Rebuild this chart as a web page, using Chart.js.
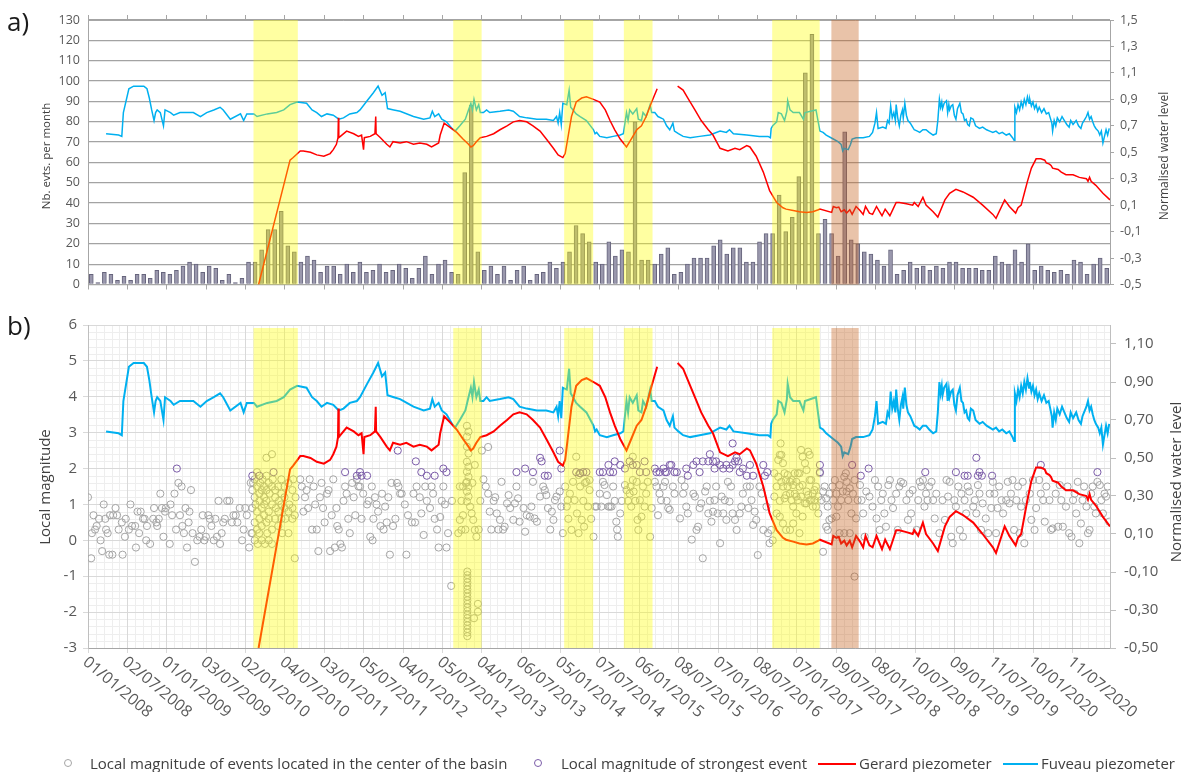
<!DOCTYPE html>
<html>
<head>
<meta charset="utf-8">
<script src="https://cdn.jsdelivr.net/npm/chart.js@4.4.1/dist/chart.umd.min.js"></script>
<style>
  body { margin: 0; background: #fff; width: 1184px; height: 772px; overflow: hidden; position: relative; font-family: 'Open Sans', sans-serif; color: #595959; }
  canvas { position: absolute; left: 0; }
  #chartA { top: 0; }
  #chartB { top: 300px; }
  .panel { position: absolute; left: 7px; font-size: 26px; color: #1a1a1a; line-height: 1; }
  .title { position: absolute; white-space: nowrap; transform: translate(-50%, -50%) rotate(-90deg); color: #404040; }
  .legend { position: absolute; top: 753px; font-size: 15px; color: #404040; white-space: nowrap; line-height: 20px; }
  .dot { position: absolute; top: 759px; width: 6px; height: 6px; border-radius: 50%; border: 1px solid; }
  .dash { position: absolute; top: 763px; height: 2px; }
</style>
</head>
<body>
<canvas id="chartA" width="1184" height="300"></canvas>
<canvas id="chartB" width="1184" height="472"></canvas>

<div class="panel" style="top:8px">a)</div>
<div class="panel" style="top:312px">b)</div>
<div class="title" style="left:45px; top:156px; font-size:11.5px">Nb. evts. per month</div>
<div class="title" style="left:1163px; top:156px; font-size:12px">Normalised water level</div>
<div class="title" style="left:44px; top:487px; font-size:15px">Local magnitude</div>
<div class="title" style="left:1175px; top:482px; font-size:15px">Normalised water level</div>

<div class="dot" style="left:64px; border-color:#a5a5a5"></div>
<div class="legend" style="left:90px">Local magnitude of events located in the center of the basin</div>
<div class="dot" style="left:534px; border-color:#7b5ca8"></div>
<div class="legend" style="left:561px">Local magnitude of strongest event</div>
<div class="dash" style="left:818px; width:38px; background:#ff0000"></div>
<div class="legend" style="left:859px">Gerard piezometer</div>
<div class="dash" style="left:1003px; width:35px; background:#00b0f0"></div>
<div class="legend" style="left:1041px">Fuveau piezometer</div>

<script>
// Date axis labels (every 183 days, as in the original spreadsheet)
const tickLabels = ['01/01/2008', '02/07/2008', '01/01/2009', '03/07/2009', '02/01/2010', '04/07/2010',
    '03/01/2011', '05/07/2011', '04/01/2012', '05/07/2012', '04/01/2013', '06/07/2013', '05/01/2014',
    '07/07/2014', '06/01/2015', '08/07/2015', '07/01/2016', '08/07/2016', '07/01/2017', '09/07/2017',
    '08/01/2018', '10/07/2018', '09/01/2019', '11/07/2019', '10/01/2020', '11/07/2020'];

// Number of events per month, Jan 2008 .. Dec 2020
const monthlyCounts = [
    5, 1, 6, 5, 2, 4, 2, 5, 5, 3, 7, 6,
    5, 7, 9, 11, 10, 6, 9, 8, 2, 5, 1, 3,
    11, 11, 17, 27, 27, 36, 19, 16, 11, 14, 12, 6,
    9, 9, 5, 10, 6, 11, 6, 7, 10, 6, 7, 10,
    8, 3, 8, 14, 5, 10, 12, 6, 5, 55, 88, 16,
    7, 9, 5, 9, 2, 7, 9, 2, 5, 6, 11, 8,
    11, 16, 29, 25, 21, 11, 10, 21, 14, 17, 16, 80,
    12, 12, 10, 15, 18, 5, 6, 10, 13, 13, 13, 19,
    22, 15, 18, 18, 11, 11, 21, 25, 25, 44, 26, 33,
    53, 104, 123, 25, 32, 25, 14, 75, 22, 20, 16, 15,
    12, 9, 17, 5, 7, 11, 8, 9, 7, 9, 8, 11,
    11, 8, 8, 8, 7, 7, 14, 11, 10, 17, 11, 20,
    7, 9, 7, 6, 7, 5, 12, 11, 5, 10, 13, 8
];

// Normalised water levels [decimal year, level]
const fuveau = [
    [2008.23, 0.64], [2008.39, 0.63], [2008.43, 0.62], [2008.45, 0.80], [2008.52, 0.98], [2008.58, 1.00],
    [2008.71, 1.00], [2008.75, 0.98], [2008.78, 0.91], [2008.81, 0.82], [2008.84, 0.74], [2008.86, 0.80],
    [2008.88, 0.82], [2008.92, 0.80], [2008.96, 0.70], [2008.98, 0.82], [2009.05, 0.80], [2009.09, 0.78],
    [2009.17, 0.80], [2009.26, 0.80], [2009.34, 0.80], [2009.43, 0.77], [2009.51, 0.80], [2009.60, 0.82],
    [2009.68, 0.84], [2009.72, 0.82], [2009.81, 0.75], [2009.94, 0.79], [2009.98, 0.74], [2010.02, 0.79],
    [2010.11, 0.79], [2010.15, 0.77], [2010.28, 0.79], [2010.40, 0.80], [2010.49, 0.82], [2010.57, 0.86],
    [2010.66, 0.88], [2010.78, 0.87], [2010.85, 0.82], [2010.91, 0.80], [2010.97, 0.77], [2011.04, 0.79],
    [2011.12, 0.78], [2011.19, 0.75], [2011.25, 0.76], [2011.33, 0.79], [2011.42, 0.80], [2011.46, 0.82],
    [2011.55, 0.89], [2011.63, 0.95], [2011.69, 1.00], [2011.74, 0.93], [2011.78, 0.95], [2011.81, 0.83],
    [2011.89, 0.82], [2011.97, 0.81], [2012.14, 0.77], [2012.27, 0.75], [2012.35, 0.76], [2012.38, 0.81],
    [2012.41, 0.77], [2012.46, 0.79], [2012.50, 0.75], [2012.56, 0.73], [2012.63, 0.68], [2012.67, 0.66],
    [2012.73, 0.70], [2012.80, 0.75], [2012.84, 0.82], [2012.87, 0.87], [2012.89, 0.82], [2012.91, 0.90],
    [2012.94, 0.82], [2012.97, 0.86], [2012.99, 0.80], [2013.03, 0.80], [2013.07, 0.82], [2013.11, 0.80],
    [2013.24, 0.81], [2013.35, 0.82], [2013.41, 0.81], [2013.49, 0.77], [2013.58, 0.76], [2013.71, 0.75],
    [2013.83, 0.75], [2013.92, 0.74], [2013.96, 0.77], [2013.98, 0.72], [2014.00, 0.80], [2014.02, 0.71],
    [2014.04, 0.87], [2014.09, 0.86], [2014.12, 0.97], [2014.14, 0.84], [2014.17, 0.82], [2014.21, 0.79],
    [2014.26, 0.77], [2014.34, 0.74], [2014.43, 0.67], [2014.45, 0.64], [2014.47, 0.65], [2014.51, 0.62],
    [2014.60, 0.61], [2014.68, 0.62], [2014.77, 0.63], [2014.81, 0.64], [2014.85, 0.80], [2014.87, 0.74],
    [2014.89, 0.82], [2014.93, 0.79], [2014.98, 0.83], [2015.00, 0.75], [2015.04, 0.74], [2015.06, 0.80],
    [2015.10, 0.77], [2015.15, 0.86], [2015.17, 0.80], [2015.21, 0.80], [2015.25, 0.77], [2015.32, 0.75],
    [2015.36, 0.70], [2015.40, 0.67], [2015.44, 0.72], [2015.46, 0.66], [2015.51, 0.64], [2015.57, 0.62],
    [2015.66, 0.61], [2015.78, 0.62], [2015.91, 0.63], [2016.04, 0.66], [2016.12, 0.65], [2016.16, 0.67],
    [2016.21, 0.64], [2016.38, 0.63], [2016.54, 0.62], [2016.65, 0.62], [2016.68, 0.61], [2016.69, 0.68],
    [2016.71, 0.70], [2016.76, 0.73], [2016.78, 0.80], [2016.82, 0.79], [2016.86, 0.74], [2016.89, 0.81],
    [2016.90, 0.89], [2016.93, 0.82], [2016.97, 0.80], [2017.01, 0.80], [2017.05, 0.80], [2017.10, 0.75],
    [2017.12, 0.80], [2017.26, 0.82], [2017.31, 0.66], [2017.35, 0.65], [2017.39, 0.63], [2017.48, 0.60],
    [2017.54, 0.58], [2017.58, 0.56], [2017.60, 0.51], [2017.62, 0.53], [2017.67, 0.52], [2017.70, 0.56],
    [2017.72, 0.60], [2017.77, 0.61], [2017.86, 0.61], [2017.94, 0.62], [2017.98, 0.65], [2018.01, 0.72],
    [2018.03, 0.80], [2018.05, 0.68], [2018.11, 0.69], [2018.15, 0.68], [2018.17, 0.74], [2018.19, 0.72],
    [2018.21, 0.85], [2018.23, 0.76], [2018.25, 0.80], [2018.27, 0.74], [2018.28, 0.86], [2018.30, 0.76],
    [2018.32, 0.70], [2018.34, 0.78], [2018.36, 0.82], [2018.37, 0.76], [2018.39, 0.87], [2018.41, 0.78],
    [2018.43, 0.74], [2018.46, 0.72], [2018.49, 0.69], [2018.51, 0.67], [2018.55, 0.66], [2018.58, 0.65],
    [2018.62, 0.67], [2018.66, 0.67], [2018.70, 0.65], [2018.75, 0.63], [2018.79, 0.64], [2018.81, 0.74],
    [2018.83, 0.90], [2018.845, 0.84], [2018.86, 0.88], [2018.87, 0.83], [2018.89, 0.87], [2018.92, 0.89],
    [2018.935, 0.80], [2018.95, 0.86], [2018.96, 0.82], [2018.98, 0.85], [2019.00, 0.86], [2019.02, 0.78],
    [2019.04, 0.75], [2019.06, 0.83], [2019.09, 0.87], [2019.11, 0.80], [2019.13, 0.79], [2019.15, 0.74],
    [2019.17, 0.75], [2019.19, 0.71], [2019.21, 0.70], [2019.23, 0.76], [2019.26, 0.75], [2019.29, 0.70],
    [2019.34, 0.68], [2019.38, 0.69], [2019.43, 0.67], [2019.47, 0.66], [2019.51, 0.65], [2019.55, 0.66],
    [2019.59, 0.64], [2019.63, 0.65], [2019.68, 0.63], [2019.72, 0.64], [2019.76, 0.61], [2019.78, 0.59],
    [2019.79, 0.84], [2019.81, 0.80], [2019.83, 0.86], [2019.85, 0.82], [2019.87, 0.88], [2019.89, 0.84],
    [2019.91, 0.90], [2019.93, 0.86], [2019.95, 0.92], [2019.97, 0.87], [2019.98, 0.90], [2020.00, 0.85],
    [2020.02, 0.88], [2020.04, 0.83], [2020.06, 0.86], [2020.08, 0.81], [2020.10, 0.84], [2020.13, 0.80],
    [2020.16, 0.83], [2020.19, 0.79], [2020.22, 0.80], [2020.24, 0.76], [2020.26, 0.72], [2020.27, 0.66],
    [2020.29, 0.74], [2020.31, 0.70], [2020.33, 0.76], [2020.36, 0.73], [2020.39, 0.77], [2020.42, 0.74],
    [2020.45, 0.71], [2020.48, 0.69], [2020.50, 0.74], [2020.53, 0.71], [2020.57, 0.74], [2020.60, 0.70],
    [2020.63, 0.68], [2020.65, 0.72], [2020.67, 0.74], [2020.70, 0.77], [2020.72, 0.80], [2020.74, 0.75],
    [2020.76, 0.77], [2020.78, 0.73], [2020.80, 0.70], [2020.82, 0.68], [2020.85, 0.66], [2020.87, 0.63],
    [2020.89, 0.66], [2020.91, 0.57], [2020.93, 0.62], [2020.95, 0.67], [2020.97, 0.63], [2020.99, 0.68]
];

const gerard = [
    [2010.17, -0.50], [2010.57, 0.44], [2010.61, 0.46], [2010.70, 0.51], [2010.74, 0.51], [2010.83, 0.50],
    [2010.91, 0.48], [2011.00, 0.47], [2011.08, 0.49], [2011.12, 0.52], [2011.16, 0.56], [2011.18, 0.61],
    [2011.185, 0.76], [2011.19, 0.61], [2011.21, 0.62], [2011.29, 0.66], [2011.38, 0.64], [2011.44, 0.62],
    [2011.48, 0.63], [2011.505, 0.52], [2011.515, 0.61], [2011.59, 0.62], [2011.65, 0.64], [2011.66, 0.77],
    [2011.665, 0.64], [2011.72, 0.61], [2011.80, 0.56], [2011.84, 0.54], [2011.88, 0.58], [2011.97, 0.57],
    [2012.05, 0.58], [2012.14, 0.56], [2012.22, 0.57], [2012.31, 0.56], [2012.37, 0.54], [2012.46, 0.57],
    [2012.48, 0.63], [2012.53, 0.72], [2012.60, 0.69], [2012.69, 0.65], [2012.77, 0.60], [2012.84, 0.56],
    [2012.87, 0.54], [2012.90, 0.55], [2012.94, 0.58], [2012.99, 0.61], [2013.07, 0.62], [2013.16, 0.64],
    [2013.24, 0.67], [2013.33, 0.70], [2013.41, 0.73], [2013.49, 0.74], [2013.58, 0.73], [2013.66, 0.70],
    [2013.75, 0.66], [2013.83, 0.60], [2013.92, 0.53], [2013.98, 0.48], [2014.04, 0.46], [2014.07, 0.49],
    [2014.11, 0.63], [2014.15, 0.77], [2014.21, 0.88], [2014.28, 0.91], [2014.34, 0.92], [2014.43, 0.90],
    [2014.51, 0.88], [2014.58, 0.82], [2014.64, 0.74], [2014.70, 0.67], [2014.77, 0.60], [2014.85, 0.54],
    [2014.91, 0.60], [2014.98, 0.67], [2015.04, 0.70], [2015.10, 0.77], [2015.17, 0.88], [2015.24, 0.98],
    [2015.37, null], [2015.50, 1.00], [2015.57, 0.97], [2015.63, 0.91], [2015.72, 0.82], [2015.80, 0.74],
    [2015.89, 0.67], [2015.95, 0.63], [2016.04, 0.53], [2016.14, 0.51], [2016.23, 0.53], [2016.29, 0.52],
    [2016.38, 0.55], [2016.42, 0.54], [2016.50, 0.47], [2016.59, 0.35], [2016.67, 0.21], [2016.76, 0.12],
    [2016.84, 0.08], [2016.88, 0.07], [2016.97, 0.06], [2017.05, 0.05], [2017.14, 0.045], [2017.22, 0.05],
    [2017.29, 0.065], [2017.31, 0.07], [2017.46, 0.045], [2017.48, 0.09], [2017.52, 0.08], [2017.55, 0.085],
    [2017.58, 0.05], [2017.62, 0.065], [2017.65, 0.04], [2017.69, 0.065], [2017.72, 0.03], [2017.77, 0.09],
    [2017.82, 0.06], [2017.86, 0.03], [2017.89, 0.09], [2017.94, 0.04], [2017.98, 0.03], [2018.03, 0.09],
    [2018.07, 0.05], [2018.10, 0.02], [2018.14, 0.07], [2018.20, 0.02], [2018.24, 0.07], [2018.28, 0.12],
    [2018.32, 0.12], [2018.41, 0.11], [2018.49, 0.10], [2018.51, 0.12], [2018.56, 0.09], [2018.62, 0.16],
    [2018.66, 0.10], [2018.75, 0.05], [2018.81, 0.01], [2018.90, 0.14], [2018.96, 0.19], [2019.04, 0.22],
    [2019.13, 0.20], [2019.26, 0.16], [2019.38, 0.10], [2019.51, 0.03], [2019.55, 0.00], [2019.66, 0.14],
    [2019.72, 0.09], [2019.80, 0.04], [2019.83, 0.08], [2019.87, 0.10], [2019.91, 0.19], [2019.95, 0.28],
    [2020.00, 0.38], [2020.06, 0.45], [2020.12, 0.45], [2020.17, 0.44], [2020.19, 0.42], [2020.23, 0.41],
    [2020.25, 0.40], [2020.27, 0.38], [2020.34, 0.37], [2020.38, 0.35], [2020.44, 0.33], [2020.53, 0.33],
    [2020.61, 0.31], [2020.70, 0.30], [2020.72, 0.28], [2020.74, 0.31], [2020.76, 0.28], [2020.82, 0.25],
    [2020.91, 0.19], [2021.00, 0.14]
];

// Local magnitudes [decimal year, ML]
const basinEvents = [
    [2008.00, 1.2], [2008.04, -0.5], [2008.05, 0.2], [2008.07, 0.7], [2008.09, 0.3], [2008.11, 0.4], [2008.14, 0.6],
    [2008.16, 0.0], [2008.18, -0.3], [2008.20, 1.0], [2008.22, 0.6], [2008.23, 0.3], [2008.25, 0.2], [2008.27, -0.4],
    [2008.28, 0.7], [2008.31, -0.4], [2008.32, 0.7], [2008.35, 0.9], [2008.37, 0.7], [2008.39, 0.3], [2008.43, 0.5],
    [2008.44, -0.4], [2008.47, 0.1], [2008.48, 0.6], [2008.52, 0.3], [2008.54, 1.0], [2008.56, 0.4], [2008.60, 0.4],
    [2008.61, -0.2], [2008.63, 0.8], [2008.65, 0.2], [2008.67, 0.8], [2008.70, 0.6], [2008.72, 0.6], [2008.74, 0.0],
    [2008.75, 0.4], [2008.79, -0.1], [2008.83, 0.6], [2008.84, 0.9], [2008.87, 0.5], [2008.88, 0.4], [2008.90, 0.6],
    [2008.92, 1.3], [2008.94, 0.9], [2008.96, 0.1], [2008.98, 0.8], [2008.99, 0.9], [2009.04, -0.1], [2009.05, 1.0],
    [2009.07, 0.7], [2009.10, 1.3], [2009.12, 0.3], [2009.15, 1.6], [2009.17, 0.7], [2009.19, 1.5], [2009.20, 0.4],
    [2009.22, 0.2], [2009.24, 0.9], [2009.26, -0.2], [2009.28, 0.5], [2009.29, 0.8], [2009.31, 1.4], [2009.33, 0.2],
    [2009.36, -0.6], [2009.39, 0.0], [2009.42, 0.1], [2009.44, 0.3], [2009.46, 0.7], [2009.48, 0.0], [2009.50, 0.1],
    [2009.53, 0.7], [2009.55, 0.6], [2009.57, 0.4], [2009.60, 0.0], [2009.62, 0.6], [2009.64, 0.1], [2009.66, 1.1],
    [2009.68, -0.1], [2009.70, 0.2], [2009.72, 0.5], [2009.74, 0.6], [2009.77, 1.1], [2009.80, 1.1], [2009.83, 0.5],
    [2009.85, 0.7], [2009.88, 0.7], [2009.90, 0.5], [2009.93, 0.9], [2009.96, 0.0], [2009.98, 0.3], [2010.00, 0.9],
    [2010.02, 0.7], [2010.05, -0.2], [2010.07, 1.6], [2010.08, 0.2],
    [2010.09, 1.4], [2010.09, 0.9], [2010.09, 0.2], [2010.10, 1.6], [2010.12, 1.2], [2010.12, 0.5], [2010.12, 1.7],
    [2010.12, 0.0], [2010.13, 1.0], [2010.15, 1.5], [2010.15, 0.3], [2010.15, 0.8], [2010.15, 1.9], [2010.16, -0.1],
    [2010.18, 1.3], [2010.18, 0.6], [2010.18, 1.1], [2010.19, 1.6], [2010.18, 0.2], [2010.21, 1.4], [2010.21, 0.0],
    [2010.21, 0.9], [2010.22, 1.7], [2010.21, 0.4], [2010.24, 1.2], [2010.24, 0.7], [2010.24, 1.5], [2010.25, -0.1],
    [2010.24, 1.0], [2010.27, 1.4], [2010.27, 0.5], [2010.27, 1.8], [2010.28, 0.2], [2010.27, 1.1], [2010.27, 2.3],
    [2010.30, 1.6], [2010.30, 0.8], [2010.31, 1.3], [2010.30, 0.0], [2010.30, 0.6], [2010.34, 1.5], [2010.34, 1.0],
    [2010.34, 0.3], [2010.35, 1.7], [2010.34, -0.1], [2010.34, 2.4], [2010.38, 1.2], [2010.38, 0.6], [2010.38, 1.4],
    [2010.39, 0.9], [2010.42, 1.5], [2010.42, 0.8], [2010.43, 1.1], [2010.42, 0.4], [2010.46, 1.3], [2010.46, 0.6],
    [2010.46, 1.7], [2010.47, 0.2], [2010.46, 1.0], [2010.50, 1.5], [2010.50, 0.9], [2010.51, 0.6], [2010.50, 1.2],
    [2010.55, 1.6], [2010.55, 0.8], [2010.56, 1.0], [2010.55, 0.2], [2010.60, 1.4], [2010.60, 0.6], [2010.61, 1.7],
    [2010.60, 0.9], [2010.63, -0.5], [2010.64, 1.2], [2010.63, 0.7],
    [2010.70, 1.7], [2010.72, 1.5], [2010.74, 0.8], [2010.76, 1.2], [2010.78, 1.4], [2010.80, 0.9], [2010.82, 1.7],
    [2010.85, 0.3], [2010.87, 1.5], [2010.89, 1.0], [2010.91, 0.3], [2010.93, -0.3], [2010.95, 1.2], [2010.97, 1.6],
    [2010.99, 0.9], [2011.01, 0.5], [2011.04, 1.3], [2011.06, 1.4], [2011.08, -0.3], [2011.10, 0.7], [2011.12, 1.7],
    [2011.14, -0.2], [2011.16, 0.9], [2011.17, 0.4], [2011.19, 0.3], [2011.21, -0.1], [2011.23, -0.2], [2011.25, 1.1],
    [2011.27, 1.5], [2011.29, 1.3], [2011.31, 0.6], [2011.33, 0.2], [2011.36, 1.6], [2011.38, 1.2], [2011.40, 0.7],
    [2011.42, 1.7], [2011.44, 1.5], [2011.46, 1.5], [2011.48, 0.6], [2011.50, 1.3], [2011.55, 1.0], [2011.57, 1.1],
    [2011.59, 0.1], [2011.61, 1.5], [2011.62, 0.0], [2011.63, 0.6], [2011.65, 1.2], [2011.67, 1.0], [2011.69, 0.8],
    [2011.72, 0.4], [2011.74, 1.3], [2011.76, 0.3], [2011.78, 0.94], [2011.80, 0.5], [2011.82, 1.2], [2011.84, -0.4],
    [2011.86, 1.6], [2011.88, 0.4], [2011.91, 0.6], [2011.93, 1.6], [2011.95, 1.5], [2011.97, 1.3],
    [2011.99, 1.3], [2012.03, 1.0], [2012.05, -0.4], [2012.07, 0.7], [2012.12, 0.5], [2012.14, 1.3], [2012.16, 0.5],
    [2012.18, 1.5], [2012.22, 1.2], [2012.24, 0.75], [2012.27, 0.15], [2012.29, 1.5], [2012.31, 1.1], [2012.35, 0.9],
    [2012.37, 1.5], [2012.39, 1.3], [2012.41, 0.6], [2012.44, 0.3], [2012.46, -0.2], [2012.48, 0.65], [2012.50, 1.1],
    [2012.52, 1.5], [2012.54, 1.0], [2012.56, -0.2], [2012.58, 0.2], [2012.63, 1.1], [2012.62, -1.27],
    [2012.71, 0.2], [2012.73, 1.5], [2012.73, 0.57], [2012.75, 1.1], [2012.75, 0.29], [2012.77, 1.5], [2012.77, 0.7],
    [2012.80, 0.3], [2012.81, 1.6], [2012.82, 3.19], [2012.84, 3.03], [2012.82, 2.89], [2012.82, 2.61], [2012.84, 2.42],
    [2012.82, 2.19], [2012.84, 2.05], [2012.82, 1.91], [2012.84, 1.77], [2012.82, 1.63], [2012.84, 1.49], [2012.82, 1.36],
    [2012.84, 1.22], [2012.82, 1.08], [2012.86, 0.94], [2012.88, 0.75], [2012.90, 0.57], [2012.92, 0.29], [2012.94, 0.1],
    [2012.97, 0.3], [2012.99, 1.1], [2012.92, 2.1], [2012.89, 1.6],
    [2012.825, -0.87], [2012.825, -0.97], [2012.825, -1.07], [2012.825, -1.17], [2012.825, -1.27], [2012.825, -1.37],
    [2012.825, -1.47], [2012.825, -1.57], [2012.825, -1.67], [2012.825, -1.77], [2012.825, -1.87], [2012.825, -1.97],
    [2012.825, -2.07], [2012.825, -2.17], [2012.825, -2.27], [2012.825, -2.37], [2012.825, -2.47], [2012.825, -2.57],
    [2012.825, -2.67], [2012.96, -1.77], [2012.96, -1.99], [2012.91, -2.17],
    [2013.01, 2.5], [2013.09, 2.6], [2013.03, 1.7], [2013.06, 1.5], [2013.09, 1.3], [2013.11, 0.8], [2013.13, 0.3],
    [2013.16, 1.1], [2013.18, 1.2], [2013.20, 0.75], [2013.22, 0.3], [2013.24, 0.57], [2013.26, 1.63], [2013.28, 0.3],
    [2013.30, 0.38], [2013.33, 1.03], [2013.35, 1.26], [2013.37, 0.9], [2013.41, 0.57], [2013.43, 1.03], [2013.45, 1.5],
    [2013.47, 1.17], [2013.49, 0.52], [2013.54, 0.9], [2013.56, 0.24], [2013.58, 0.7], [2013.62, 0.66], [2013.64, 0.94],
    [2013.66, 1.63], [2013.68, 0.61], [2013.71, 0.52], [2013.75, 1.22], [2013.79, 1.5], [2013.81, 1.4], [2013.83, 1.26],
    [2013.85, 0.9], [2013.88, 0.3], [2013.90, 0.8], [2013.92, 0.57], [2013.94, 1.12], [2013.96, 1.22], [2014.00, 1.36],
    [2014.02, 0.94], [2014.04, 0.2],
    [2014.07, 1.5], [2014.09, 0.94], [2014.10, 1.12], [2014.11, 0.6], [2014.13, 1.3], [2014.15, 0.29], [2014.17, 1.63],
    [2014.19, 1.12], [2014.21, 2.33], [2014.22, 0.75], [2014.24, 0.2], [2014.26, 1.5], [2014.28, 0.57], [2014.30, 1.1],
    [2014.31, 0.38], [2014.32, 1.6], [2014.34, 1.63], [2014.36, 0.94], [2014.38, 1.4], [2014.40, 0.6], [2014.43, 0.1],
    [2014.38, 1.68], [2014.26, 1.87], [2014.24, 1.82],
    [2014.45, 0.94], [2014.47, 0.94], [2014.51, 1.3], [2014.53, 0.94], [2014.55, 1.63], [2014.57, 1.54], [2014.60, 1.26],
    [2014.62, 0.94], [2014.64, 0.94], [2014.66, 0.94], [2014.68, 1.5], [2014.70, 1.1], [2014.72, 0.52], [2014.73, 0.3],
    [2014.74, 0.1], [2014.77, 0.75], [2014.79, 1.1],
    [2014.83, 1.54], [2014.85, 1.4], [2014.87, 1.1], [2014.89, 1.3], [2014.90, 1.5], [2014.91, 0.94], [2014.93, 1.68],
    [2014.94, 1.36], [2014.96, 1.1], [2014.98, 1.63], [2014.99, 0.57], [2015.00, 0.29], [2015.02, 1.12], [2015.04, 0.66],
    [2015.06, 1.5], [2015.08, 0.94], [2015.10, 1.3], [2015.12, 1.63], [2015.15, 0.1], [2015.17, 0.9], [2014.93, 2.33],
    [2015.21, 1.63], [2015.23, 1.5], [2015.25, 0.7], [2015.27, 1.3], [2015.29, 1.12], [2015.32, 1.5], [2015.34, 1.63],
    [2015.36, 1.1], [2015.38, 0.9], [2015.40, 0.85], [2015.44, 1.5], [2015.46, 1.3], [2015.53, 0.61], [2015.55, 1.68],
    [2015.57, 1.3], [2015.59, 1.5], [2015.61, 0.94], [2015.63, 0.75], [2015.68, 0.02], [2015.70, 1.3], [2015.72, 1.22],
    [2015.74, 0.29], [2015.76, 0.38], [2015.78, 0.9], [2015.80, 1.03], [2015.82, -0.5], [2015.85, 1.36], [2015.87, 1.5],
    [2015.89, 0.75], [2015.91, 1.1], [2015.93, 0.52], [2015.95, 0.8], [2015.97, 1.12], [2015.99, 1.5], [2016.01, 0.75],
    [2016.04, -0.08], [2016.06, 1.22], [2016.08, 0.75], [2016.10, 1.12], [2016.12, 0.57], [2016.14, 1.63], [2016.16, 1.08],
    [2016.18, 1.5], [2016.20, 0.75], [2016.23, 0.57], [2016.25, 0.29], [2016.29, 0.75], [2016.31, 0.94], [2016.33, 1.3],
    [2016.38, 1.5], [2016.40, 0.9], [2016.42, 1.5], [2016.44, 1.12], [2016.46, 0.43], [2016.48, 0.8], [2016.50, 0.57],
    [2016.52, -0.41], [2016.54, 1.5], [2016.57, 1.3], [2016.59, 0.29], [2016.63, 0.94], [2016.65, 0.2], [2016.67, -0.08],
    [2016.69, 0.29], [2016.71, 0.0],
    [2016.73, 1.22], [2016.76, 1.5], [2016.78, 2.24], [2016.80, 2.38], [2016.81, 2.7], [2016.82, 2.38], [2016.84, 2.15],
    [2016.86, 1.87], [2016.88, 1.68], [2016.90, 1.5], [2016.93, 1.3], [2016.95, 1.12], [2016.97, 0.94], [2016.99, 1.3],
    [2017.01, 1.63], [2017.03, 1.87], [2017.05, 1.5], [2017.07, 2.52], [2017.09, 2.33], [2017.12, 2.15], [2017.14, 1.96],
    [2017.16, 2.47], [2017.18, 2.38], [2017.20, 1.68], [2017.22, 1.3], [2017.24, 1.12], [2017.26, 0.94], [2017.29, 0.75],
    [2016.80, 0.66], [2016.84, 0.47], [2016.88, 0.29], [2016.93, 0.29], [2016.97, 0.47], [2017.01, 0.75], [2017.05, 0.2],
    [2017.09, 0.66], [2017.14, 1.03], [2017.18, 1.12], [2016.80, 1.1], [2016.84, 1.5], [2016.88, 1.26], [2016.93, 1.63],
    [2016.97, 1.54], [2017.01, 1.22], [2017.05, 1.87], [2017.09, 1.54], [2017.14, 1.36], [2017.18, 1.68], [2017.22, 0.94],
    [2017.26, 1.5], [2016.76, 0.75], [2016.73, 1.87], [2016.78, 1.77], [2016.82, 1.63], [2016.86, 1.17], [2016.90, 1.82],
    [2016.95, 1.68], [2016.99, 1.87], [2017.03, 1.12], [2017.07, 1.22], [2017.12, 1.03], [2017.16, 1.26], [2017.20, 1.12],
    [2017.24, 1.4], [2017.29, 1.22], [2017.31, 1.87], [2017.35, -0.32],
    [2017.33, 1.12], [2017.35, 1.36], [2017.37, 1.5], [2017.39, 1.17], [2017.41, 0.94], [2017.43, 1.3], [2017.39, 0.38],
    [2017.41, 0.29], [2017.43, 0.57],
    [2017.47, 1.5], [2017.48, 1.12], [2017.50, 1.68], [2017.52, 1.3], [2017.54, 0.94], [2017.56, 1.54], [2017.58, 1.12],
    [2017.60, 1.36], [2017.62, 1.77], [2017.64, 1.87], [2017.65, 1.63], [2017.65, 1.36], [2017.67, 1.12], [2017.69, 1.45],
    [2017.71, 0.75], [2017.73, 1.3], [2017.75, 1.68], [2017.77, 0.61], [2017.79, 1.12], [2017.75, -1.01], [2017.56, 0.2],
    [2017.62, 0.2], [2017.69, 0.2], [2017.52, 0.66], [2017.46, 0.61],
    [2017.82, 1.54], [2017.84, 1.12], [2017.86, 0.75], [2017.88, 0.1], [2017.90, 1.36], [2017.94, 1.22], [2017.98, 0.94],
    [2018.01, 1.68], [2018.03, 0.61], [2018.05, 1.5], [2018.07, 0.29], [2018.09, 1.12], [2018.11, 1.3], [2018.13, 0.75],
    [2018.15, 0.38], [2018.18, 1.54], [2018.20, 1.68], [2018.22, 1.12], [2018.24, 0.9], [2018.28, 1.3], [2018.30, 0.29],
    [2018.32, 1.5], [2018.34, 1.63], [2018.37, 1.59], [2018.41, 1.12], [2018.43, 0.57], [2018.45, 1.3], [2018.47, 0.75],
    [2018.49, 1.4], [2018.54, 0.29], [2018.56, 1.12], [2018.58, 1.63], [2018.60, 1.5], [2018.62, 1.68], [2018.64, 0.94],
    [2018.66, 1.3], [2018.68, 1.12], [2018.70, 1.5], [2018.73, 1.63], [2018.75, 1.12], [2018.77, 0.61], [2018.79, 1.3],
    [2018.83, 0.2], [2018.87, 1.12], [2018.90, 0.57], [2018.92, 1.68], [2018.94, 1.22], [2018.96, 1.63], [2018.98, 0.1],
    [2019.00, -0.08], [2019.02, 1.12], [2019.04, 0.94], [2019.07, 1.5], [2019.09, 0.29], [2019.11, 1.3], [2019.13, 0.1],
    [2019.15, 1.12], [2019.17, 0.75], [2019.19, 1.5], [2019.21, 1.36], [2019.26, 0.94], [2019.28, 1.12], [2019.30, 0.75],
    [2019.32, 1.54], [2019.34, 1.3], [2019.36, 0.29], [2019.38, 1.03], [2019.42, 0.61], [2019.45, 0.2], [2019.47, 1.3],
    [2019.49, 0.9], [2019.51, 1.63], [2019.53, 1.3], [2019.55, 0.2], [2019.57, 0.9], [2019.59, 1.5], [2019.62, 1.12],
    [2019.64, 0.75], [2019.68, 1.12], [2019.70, 1.63], [2019.72, 1.03], [2019.74, 1.3], [2019.76, 1.68], [2019.78, 0.29],
    [2019.81, 1.12], [2019.83, 1.5], [2019.85, 0.2], [2019.87, 0.94], [2019.89, 1.63], [2019.91, -0.08], [2019.93, 1.12],
    [2019.98, 1.3], [2020.00, 0.57], [2020.02, 1.68], [2020.04, 0.29], [2020.06, 0.9], [2020.10, 1.68], [2020.12, 1.3],
    [2020.15, 1.12], [2020.17, 0.52], [2020.19, 1.5], [2020.23, 1.12], [2020.25, 0.29], [2020.27, 0.33], [2020.31, 1.3],
    [2020.34, 0.38], [2020.36, 1.54], [2020.38, 1.12], [2020.40, 0.38], [2020.44, 0.94], [2020.46, 1.5], [2020.48, 0.2],
    [2020.51, 0.1], [2020.53, 1.12], [2020.55, 1.3], [2020.57, 0.75], [2020.59, 1.63], [2020.61, -0.08], [2020.63, 0.47],
    [2020.65, 1.12], [2020.67, 1.5], [2020.70, 0.94], [2020.72, 0.2], [2020.74, 0.29], [2020.76, 1.3], [2020.78, 1.5],
    [2020.80, 0.94], [2020.82, 0.75], [2020.84, 1.63], [2020.87, 1.54], [2020.89, 1.12], [2020.91, 0.75], [2020.93, 1.3],
    [2020.95, 1.22], [2020.97, 1.5], [2020.99, 0.52]
];

const strongestEvents = [
    [2009.13, 2.0], [2010.09, 1.8], [2010.18, 1.8], [2010.36, 1.9], [2011.27, 1.9], [2011.42, 1.8], [2011.46, 1.9],
    [2011.48, 1.8], [2011.55, 1.8], [2011.94, 2.5], [2012.17, 2.2], [2012.24, 1.9], [2012.31, 1.8], [2012.41, 1.8],
    [2012.52, 2.0], [2012.56, 1.9], [2013.45, 1.9], [2013.56, 2.0], [2013.66, 1.9], [2013.75, 2.3], [2013.77, 2.2],
    [2013.81, 1.8], [2013.85, 1.8], [2014.00, 2.5], [2014.02, 2.0], [2014.21, 1.9], [2014.26, 1.87], [2014.30, 1.9],
    [2014.34, 1.9], [2014.51, 1.9], [2014.55, 1.9], [2014.62, 2.1], [2014.64, 1.9], [2014.68, 1.9], [2014.70, 2.2],
    [2014.77, 2.1], [2014.83, 2.0], [2014.89, 2.2], [2014.93, 2.1], [2014.98, 2.1], [2015.02, 1.9], [2015.08, 2.2],
    [2015.10, 1.9], [2015.21, 2.0], [2015.23, 1.9], [2015.27, 1.9], [2015.32, 2.0], [2015.34, 1.9], [2015.36, 1.9],
    [2015.40, 2.1], [2015.42, 2.1], [2015.46, 1.9], [2015.49, 1.9], [2015.61, 2.0], [2015.63, 1.8], [2015.70, 2.1],
    [2015.74, 2.2], [2015.78, 1.9], [2015.82, 2.2], [2015.89, 2.2], [2015.91, 2.4], [2015.95, 2.2], [2015.97, 2.0],
    [2015.99, 2.2], [2016.04, 2.1], [2016.08, 2.0], [2016.12, 2.1], [2016.16, 2.0], [2016.20, 2.1], [2016.23, 2.2],
    [2016.25, 2.3], [2016.27, 2.2], [2016.29, 1.9], [2016.33, 2.0], [2016.38, 1.8], [2016.20, 2.7], [2016.42, 2.1],
    [2016.46, 1.8], [2016.59, 2.1], [2016.61, 1.8], [2016.64, 1.9], [2017.31, 2.1], [2017.31, 1.9], [2017.72, 2.1],
    [2017.83, 1.8], [2017.93, 2.0], [2018.65, 1.9], [2019.04, 1.9], [2019.15, 1.8], [2019.19, 1.8], [2019.30, 2.3],
    [2019.32, 1.8], [2019.34, 1.9], [2019.37, 1.8], [2019.50, 1.8], [2020.12, 2.1], [2020.84, 1.9]
];

// Seismic swarm periods (yellow) and the brown period, decimal years
const swarmPeriods = [[2010.105, 2010.669], [2012.646, 2013.007], [2014.057, 2014.426], [2014.816, 2015.181], [2016.703, 2017.307]];
const brownPeriod = [2017.456, 2017.803];

const levelTicksA = [-0.5, -0.3, -0.1, 0.1, 0.3, 0.5, 0.7, 0.9, 1.1, 1.3, 1.5];
const levelTicksB = [-0.5, -0.3, -0.1, 0.1, 0.3, 0.5, 0.7, 0.9, 1.1];

// dd/mm/yyyy -> decimal year
function toYear(label) {
    const [d, m, y] = label.split('/').map(Number);
    const start = Date.UTC(y, 0, 1), end = Date.UTC(y + 1, 0, 1);
    return y + (Date.UTC(y, m - 1, d) - start) / (end - start);
}
const tickYears = tickLabels.map(toYear);

// month centres for the bars
const monthCentres = [];
for (let y = 2008; y <= 2020; y++) {
    for (let m = 0; m < 12; m++) monthCentres.push(y + (m + 0.5) / 12);
}

const toXY = list => list.map(p => ({ x: p[0], y: p[1] }));
const comma = digits => v => Number(v).toFixed(digits).replace('.', ',');
const FONT = 'Open Sans';
const GREY = '#595959';

// Shaded periods drawn over everything, like the original semi-transparent boxes
const periodsPlugin = {
    id: 'periods',
    afterDatasetsDraw(chart, args, opts) {
        const { ctx, chartArea: a, scales: { x } } = chart;
        const top = a.top + (opts.inset || 0);
        ctx.save();
        ctx.fillStyle = 'rgba(255, 255, 0, 0.37)';
        swarmPeriods.forEach(([s, e]) => {
            const x0 = x.getPixelForValue(s), x1 = x.getPixelForValue(e);
            ctx.fillRect(x0, top, x1 - x0, a.bottom - top);
        });
        ctx.fillStyle = 'rgba(196, 96, 30, 0.38)';
        const b0 = x.getPixelForValue(brownPeriod[0]), b1 = x.getPixelForValue(brownPeriod[1]);
        ctx.fillRect(b0, top, b1 - b0, a.bottom - top);
        ctx.restore();
    }
};

// Minor grid for the lower panel
const minorGridPlugin = {
    id: 'minorGrid',
    beforeDraw(chart) {
        const { ctx, chartArea: a, scales: { x, y } } = chart;
        ctx.save();
        ctx.strokeStyle = '#eeeeee';
        ctx.lineWidth = 1;
        ctx.beginPath();
        for (let i = 0; i < tickYears.length; i++) {
            const t0 = tickYears[i];
            const step = (i + 1 < tickYears.length ? tickYears[i + 1] : t0 + (t0 - tickYears[i - 1])) - t0;
            for (let k = 1; k < 5; k++) {
                const v = t0 + step * k / 5;
                if (v >= 2021) break;
                const px = Math.round(x.getPixelForValue(v)) + 0.5;
                ctx.moveTo(px, a.top);
                ctx.lineTo(px, a.bottom);
            }
        }
        for (let v = -3; v < 6; v++) {
            for (let k = 1; k < 5; k++) {
                const py = Math.round(y.getPixelForValue(v + k * 0.2)) + 0.5;
                ctx.moveTo(a.left, py);
                ctx.lineTo(a.right, py);
            }
        }
        ctx.stroke();
        ctx.restore();
    }
};

// Slanted date labels (text runs down to the right from each tick)
const slantedDatesPlugin = {
    id: 'slantedDates',
    afterDraw(chart) {
        const { ctx, chartArea: a, scales: { x } } = chart;
        ctx.save();
        ctx.fillStyle = GREY;
        ctx.font = '16px "' + FONT + '"';
        ctx.textAlign = 'left';
        ctx.textBaseline = 'middle';
        tickYears.forEach((v, i) => {
            ctx.save();
            ctx.translate(x.getPixelForValue(v) - 3, a.bottom + 12);
            ctx.rotate(40 * Math.PI / 180);
            ctx.fillText(tickLabels[i], 0, 0);
            ctx.restore();
        });
        ctx.restore();
    }
};

function dateAxis(position, height, gridOnArea, color) {
    return {
        type: 'linear', position, min: 2008, max: 2021, offset: false,
        afterBuildTicks: s => { s.ticks = tickYears.map(v => ({ value: v })); },
        afterFit: s => { s.height = height; },
        ticks: { display: false },
        grid: { offset: false, drawOnChartArea: gridOnArea, color, tickLength: 5 },
        border: { color: '#a6a6a6' }
    };
}

// Upper panel: monthly events + water levels
new Chart(document.getElementById('chartA'), {
    type: 'bar',
    data: {
        datasets: [
            { type: 'line', label: 'Gerard piezometer', data: toXY(gerard), yAxisID: 'y1', borderColor: '#ff0000', borderWidth: 1.5, pointRadius: 0, spanGaps: false, order: 0 },
            { type: 'line', label: 'Fuveau piezometer', data: toXY(fuveau), yAxisID: 'y1', borderColor: '#00b0f0', borderWidth: 1.5, pointRadius: 0, order: 1 },
            { type: 'bar', label: 'Nb. evts.', data: monthCentres.map((x, i) => ({ x, y: monthlyCounts[i] })), yAxisID: 'y', backgroundColor: '#9a98ad', borderColor: '#66647c', borderWidth: 1, barThickness: 4, order: 2 }
        ]
    },
    options: {
        responsive: false, animation: false, events: [],
        layout: { padding: 0 },
        plugins: { legend: { display: false }, tooltip: { enabled: false }, periods: { inset: 0 } },
        scales: {
            x: dateAxis('bottom', 8, false, '#a6a6a6'),
            xTop: dateAxis('top', 20, false, '#a6a6a6'),
            y: {
                position: 'left', min: 0, max: 130,
                afterFit: s => { s.width = 88; },
                ticks: { stepSize: 10, color: GREY, padding: 8, font: { family: FONT, size: 12.5 } },
                grid: { color: '#a3a3a3', lineWidth: 1.3, drawTicks: false },
                border: { color: '#a6a6a6' }
            },
            y1: {
                position: 'right', min: -0.5, max: 1.5,
                afterFit: s => { s.width = 74; },
                afterBuildTicks: s => { s.ticks = levelTicksA.map(v => ({ value: v })); },
                ticks: { color: GREY, padding: 6, callback: comma(1), font: { family: FONT, size: 12.5 } },
                grid: { drawOnChartArea: false, color: '#a6a6a6', tickLength: 4 },
                border: { color: '#a6a6a6' }
            }
        }
    },
    plugins: [periodsPlugin]
});

// Lower panel: magnitudes + water levels
new Chart(document.getElementById('chartB'), {
    type: 'scatter',
    data: {
        datasets: [
            { label: 'Gerard piezometer', data: toXY(gerard), yAxisID: 'y1', showLine: true, borderColor: '#ff0000', borderWidth: 2, pointRadius: 0, spanGaps: false, order: 0 },
            { label: 'Fuveau piezometer', data: toXY(fuveau), yAxisID: 'y1', showLine: true, borderColor: '#00b0f0', borderWidth: 2, pointRadius: 0, order: 1 },
            { label: 'Local magnitude of strongest event', data: toXY(strongestEvents), yAxisID: 'y', pointRadius: 3.6, pointBorderWidth: 1, pointBorderColor: '#7b5ca8', pointBackgroundColor: 'rgba(0,0,0,0)', order: 2 },
            { label: 'Local magnitude of events located in the center of the basin', data: toXY(basinEvents), yAxisID: 'y', pointRadius: 3.6, pointBorderWidth: 1, pointBorderColor: '#a5a5a5', pointBackgroundColor: 'rgba(0,0,0,0)', order: 3 }
        ]
    },
    options: {
        responsive: false, animation: false, events: [],
        layout: { padding: { top: 25 } },
        plugins: { legend: { display: false }, tooltip: { enabled: false }, periods: { inset: 3 } },
        scales: {
            x: dateAxis('bottom', 124, true, '#d9d9d9'),
            y: {
                position: 'left', min: -3, max: 6,
                afterFit: s => { s.width = 88; },
                ticks: { stepSize: 1, color: GREY, padding: 6, font: { family: FONT, size: 15 } },
                grid: { color: '#d9d9d9', tickLength: 5 },
                border: { color: '#bfbfbf' }
            },
            y1: {
                position: 'right', min: -0.5, max: 1.2,
                afterFit: s => { s.width = 74; },
                afterBuildTicks: s => { s.ticks = levelTicksB.map(v => ({ value: v })); },
                ticks: { color: GREY, padding: 8, callback: comma(2), font: { family: FONT, size: 15 } },
                grid: { drawOnChartArea: false, color: '#bfbfbf', tickLength: 6 },
                border: { color: '#bfbfbf' }
            }
        }
    },
    plugins: [minorGridPlugin, periodsPlugin, slantedDatesPlugin]
});
</script>
</body>
</html>
